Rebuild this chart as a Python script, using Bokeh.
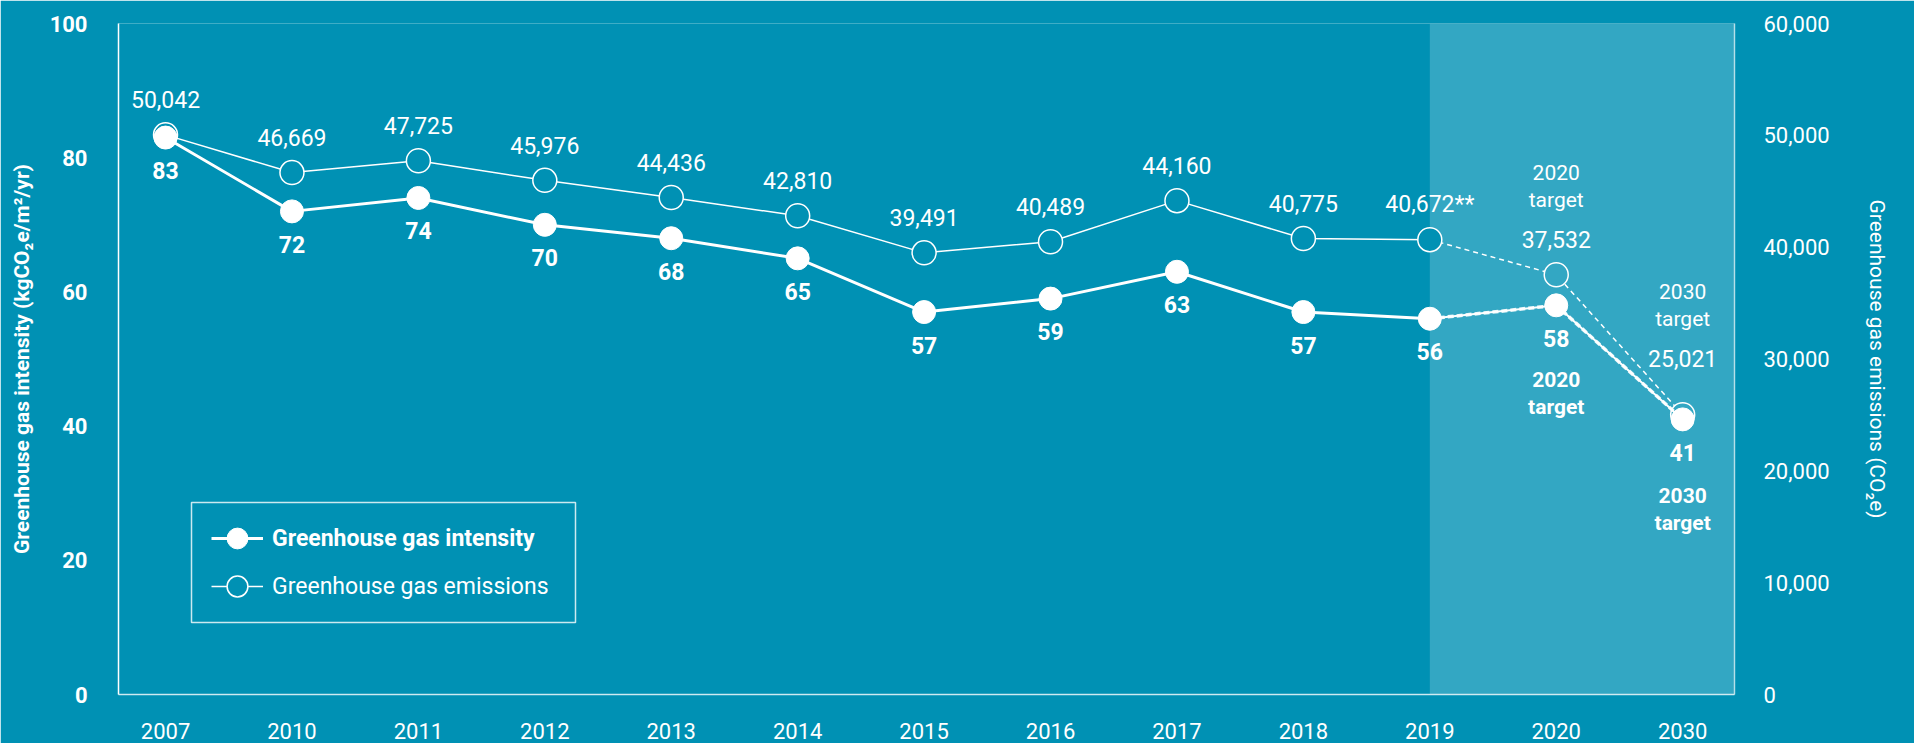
from bokeh.plotting import figure
from bokeh.models import (Range1d, LinearAxis, FixedTicker, BoxAnnotation, Legend,
                          LegendItem, ColumnDataSource, NumeralTickFormatter)
from bokeh.core.properties import value
from bokeh.embed import file_html
from bokeh.resources import INLINE

# ---------------- data ----------------
years = ["2007", "2010", "2011", "2012", "2013", "2014", "2015",
         "2016", "2017", "2018", "2019", "2020", "2030"]
intensity = [83, 72, 74, 70, 68, 65, 57, 59, 63, 57, 56, 58, 41]
emissions = [50042, 46669, 47725, 45976, 44436, 42810, 39491,
             40489, 44160, 40775, 40672, 37532, 25021]
emission_notes = ["", "", "", "", "", "", "", "", "", "", "**", "", ""]
last_actual_year = "2019"
target_years = ["2020", "2030"]
left_ticks = [0, 20, 40, 60, 80, 100]
right_ticks = [0, 10000, 20000, 30000, 40000, 50000, 60000]

# ---------------- style ----------------
BG = "#0091B4"
SHADE = "#33A7C3"
FONT = "Roboto"
WHITE = "#FFFFFF"

xs = list(range(len(years)))
ia = years.index(last_actual_year)          # index of last actual year
act = slice(0, ia + 1)
tgt = slice(ia, len(years))
ti = [years.index(t) for t in target_years]

p = figure(width=1914, height=743, output_backend="svg", toolbar_location=None,
           x_range=Range1d(-0.372, len(years) - 1 + 0.41),
           y_range=Range1d(left_ticks[0], left_ticks[-1]),
           background_fill_color=BG, border_fill_color=BG, outline_line_color=None,
           min_border_left=118, min_border_right=180, min_border_top=23,
           min_border_bottom=49)
p.extra_y_ranges = {"em": Range1d(right_ticks[0], right_ticks[-1])}
p.grid.visible = False

# shaded projection region
p.add_layout(BoxAnnotation(left=ia, fill_color=WHITE, fill_alpha=0.2,
                           line_alpha=0, level="underlay"))

# ---- axes ----
xa = p.xaxis[0]
xa.ticker = FixedTicker(ticks=xs)
xa.major_label_overrides = {i: y for i, y in enumerate(years)}
xa.axis_line_color = WHITE
xa.axis_line_alpha = 0.75
xa.axis_line_width = 1.5
xa.major_tick_line_color = None
xa.minor_tick_line_color = None
xa.major_label_standoff = 22
xa.major_label_text_color = WHITE
xa.major_label_text_font = FONT
xa.major_label_text_font_size = "22px"

ya = p.yaxis[0]
ya.ticker = FixedTicker(ticks=left_ticks)
ya.axis_line_color = WHITE
ya.axis_line_width = 1.5
ya.major_tick_line_color = None
ya.minor_tick_line_color = None
ya.major_label_standoff = 25
ya.major_label_text_color = WHITE
ya.major_label_text_font = FONT
ya.major_label_text_font_style = "bold"
ya.major_label_text_font_size = "22px"
ya.axis_label = "Greenhouse gas intensity (kgCO\u2082e/m\u00b2/yr)"
ya.axis_label_text_color = WHITE
ya.axis_label_text_font = FONT
ya.axis_label_text_font_style = "bold"
ya.axis_label_text_font_size = "21px"
ya.axis_label_standoff = 13

ra = LinearAxis(y_range_name="em", ticker=FixedTicker(ticks=right_ticks),
                formatter=NumeralTickFormatter(format="0,0"))
ra.axis_line_color = WHITE
ra.axis_line_alpha = 0.6
ra.axis_line_width = 1.5
ra.major_tick_line_color = None
ra.minor_tick_line_color = None
ra.major_label_standoff = 23
ra.major_label_text_color = WHITE
ra.major_label_text_font = FONT
ra.major_label_text_font_size = "22px"
ra.axis_label = "Greenhouse gas emissions (CO\u2082e)"
ra.axis_label_text_color = WHITE
ra.axis_label_text_font = FONT
ra.axis_label_text_font_style = "normal"
ra.axis_label_text_font_size = "21px"
ra.axis_label_standoff = 32
p.add_layout(ra, "right")

# ---- emissions series ----
em_fill = [BG if i <= ia else SHADE for i in xs]
em_src = ColumnDataSource(dict(
    x=xs, y=emissions, fill=em_fill,
    label=[f"{v:,}{n}" for v, n in zip(emissions, emission_notes)],
    dy=[-35 if i != len(xs) - 1 else -56 for i in xs]))
em_line = p.line(xs[act], emissions[act], y_range_name="em",
                 line_color=WHITE, line_width=1.5)
p.line(xs[tgt], emissions[tgt], y_range_name="em",
       line_color=WHITE, line_width=1.5, line_dash="5 4")
em_pts = p.scatter("x", "y", source=em_src, y_range_name="em", size=24,
                   fill_color="fill", line_color=WHITE, line_width=1.5)

# ---- intensity series ----
in_src = ColumnDataSource(dict(x=xs, y=intensity,
                               label=[str(v) for v in intensity]))
in_line = p.line(xs[act], intensity[act], line_color=WHITE, line_width=3)
p.line(xs[tgt], intensity[tgt], line_color=WHITE, line_width=2)
p.line(xs[tgt], intensity[tgt], line_color=WHITE, line_width=3.5,
       line_dash="6 3", line_alpha=0.9)
in_pts = p.scatter("x", "y", source=in_src, size=23,
                   fill_color=WHITE, line_color=WHITE, line_width=1)

# ---- value labels ----
p.text("x", "y", text="label", source=em_src, y_range_name="em",
       y_offset="dy", text_align="center", text_baseline="middle",
       text_color=WHITE, text_font=value(FONT), text_font_size="23px")
p.text("x", "y", text="label", source=in_src, y_offset=33,
       text_align="center", text_baseline="middle", text_color=WHITE,
       text_font=value(FONT), text_font_size="23px", text_font_style="bold")

# ---- target annotations ----
t_em = ColumnDataSource(dict(
    x=ti, y=[emissions[i] for i in ti],
    label=[f"{t}\ntarget" for t in target_years],
    dy=[-88, -109]))
t_in = ColumnDataSource(dict(
    x=ti, y=[intensity[i] for i in ti],
    label=[f"{t}\ntarget" for t in target_years],
    dy=[88, 90]))
p.text("x", "y", text="label", source=t_em, y_range_name="em", y_offset="dy",
       text_align="center", text_baseline="middle", text_line_height=1.12,
       text_color=WHITE, text_font=value(FONT), text_font_size="21px")
p.text("x", "y", text="label", source=t_in, y_offset="dy",
       text_align="center", text_baseline="middle", text_line_height=1.12,
       text_color=WHITE, text_font=value(FONT), text_font_size="21px",
       text_font_style="bold")

# ---- legend ----
p.add_layout(BoxAnnotation(left=73, right=457, bottom=72, top=192,
                           left_units="screen", right_units="screen",
                           bottom_units="screen", top_units="screen",
                           fill_alpha=0, line_color=WHITE, line_alpha=0.8,
                           line_width=1.5))
common = dict(padding=0, margin=0, border_line_alpha=0, background_fill_alpha=0,
              glyph_width=52, glyph_height=52, label_standoff=9,
              label_text_color=WHITE, label_text_font=FONT,
              label_text_font_size="23px", label_height=24)
leg1 = Legend(items=[LegendItem(label="Greenhouse gas intensity",
                                renderers=[in_line, in_pts])],
              location=(93, 130), label_text_font_style="bold", **common)
leg2 = Legend(items=[LegendItem(label="Greenhouse gas emissions",
                                renderers=[em_line, em_pts])],
              location=(93, 82), label_text_font_style="normal", **common)
p.add_layout(leg1)
p.add_layout(leg2)

open("out.html", "w").write(file_html(p, INLINE))
